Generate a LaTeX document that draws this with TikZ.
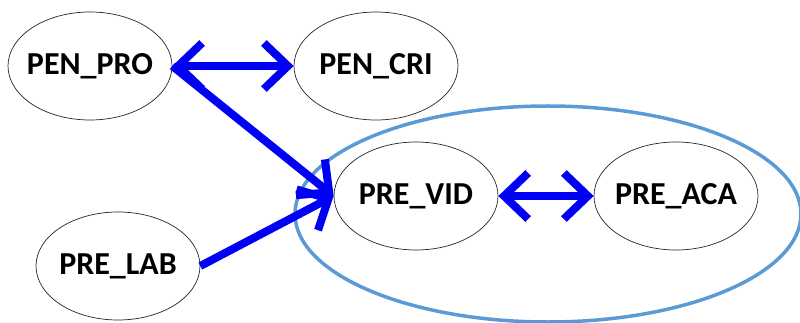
\documentclass[tikz,border=0pt]{standalone}
\usepackage{fontspec}
\setmainfont{Carlito}
\usetikzlibrary{shapes.geometric,arrows.meta}
\definecolor{arrowblue}{RGB}{0,0,245}
\definecolor{groupblue}{RGB}{91,155,213}
\tikzset{
  var/.style={ellipse, draw=black!85, line width=0.7pt, fill=white, minimum width=164pt, minimum height=108pt, inner sep=0pt, font=\fontsize{32}{36}\selectfont\bfseries},
  link/.style={draw=arrowblue, line width=8pt},
  chev/.style={-{Straight Barb[length=24pt,width=46pt]}},
  dchev/.style={{Straight Barb[length=24pt,width=46pt]}-{Straight Barb[length=24pt,width=46pt]}},
  groupring/.style={ellipse, draw=groupblue, line width=3.5pt, minimum width=506pt, minimum height=216pt, inner sep=0pt}
}
\begin{document}
\begin{tikzpicture}[x=1pt,y=-1pt]
\useasboundingbox (0,0) rectangle (800,323);
\node[groupring] (grp) at (548,214) {};
\node[var] (pro) at (90,66) {\makebox[0pt]{PEN\_PRO}};
\node[var] (cri) at (376,66) {\makebox[0pt]{PEN\_CRI}};
\node[var] (vid) at (416,196) {\makebox[0pt]{PRE\_VID}};
\node[var] (aca) at (676,196) {\makebox[0pt]{PRE\_ACA}};
\node[var] (lab) at (118,266) {\makebox[0pt]{PRE\_LAB}};
\draw[link,dchev] (pro.east) -- (cri.west);
\draw[link,chev] (pro.east) -- (vid.west);
\draw[link,chev] (lab.east) -- (vid.west);
\draw[link,dchev] (vid.east) -- (aca.west);
\end{tikzpicture}
\end{document}
